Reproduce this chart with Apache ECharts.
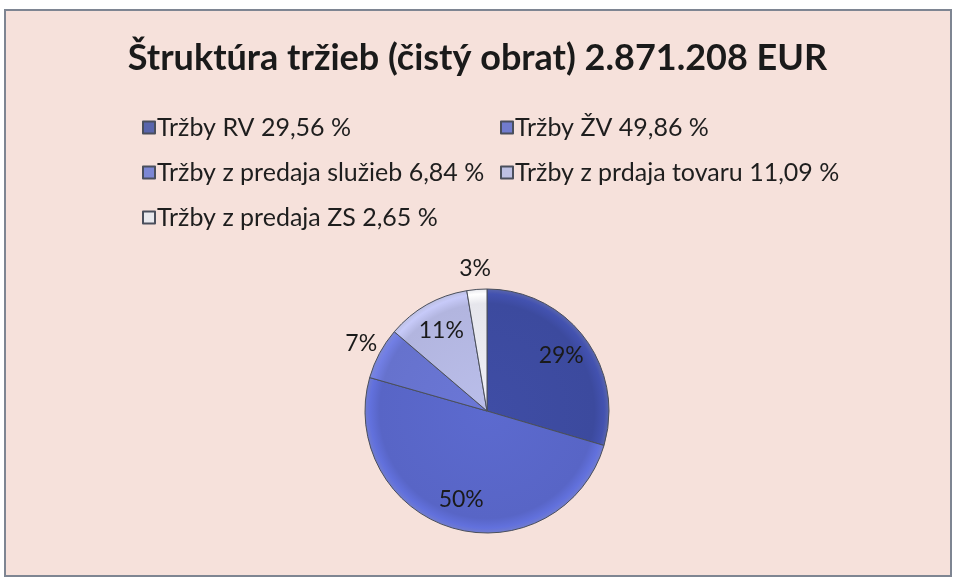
<!DOCTYPE html>
<html>
<head>
<meta charset="utf-8">
<script src="https://cdn.jsdelivr.net/npm/echarts@6/dist/echarts.min.js"></script>
<style>
  html, body { margin: 0; padding: 0; background: #ffffff; }
  #chart { width: 955px; height: 580px; }
</style>
</head>
<body>
<div id="chart"></div>
<script>
// data
const categories = [
  'Tržby RV',
  'Tržby ŽV',
  'Tržby z predaja služieb',
  'Tržby z prdaja tovaru',
  'Tržby z predaja ZS'
];
const shares = [29.56, 49.86, 6.84, 11.09, 2.65];
const shareTexts = ['29,56', '49,86', '6,84', '11,09', '2,65'];
const sliceLabels = ['29%', '50%', '7%', '11%', '3%'];
const colors = ['#3c4a9e', '#5865c6', '#6672cd', '#b2b5df', '#e6e6ec'];

const cx = 487, cy = 411, R = 122;

const chart = echarts.init(document.getElementById('chart'));

// one legend per entry so the two columns line up like in Excel
const legendPos = [
  { left: 137, top: 110 },
  { left: 495, top: 110 },
  { left: 137, top: 155 },
  { left: 495, top: 155 },
  { left: 137, top: 200 }
];
const legends = categories.map((name, i) => ({
  data: [name],
  left: legendPos[i].left,
  top: legendPos[i].top,
  icon: 'rect',
  itemWidth: 12,
  itemHeight: 12,
  itemGap: 0,
  selectedMode: false,
  formatter: n => n + ' ' + shareTexts[i] + ' %',
  textStyle: { fontFamily: 'Lato', fontSize: 25, color: '#1e1e1e', padding: [0, 0, 0, -3] }
}));

const option = {
  backgroundColor: '#ffffff',
  animation: false,
  graphic: [
    {
      type: 'rect',
      shape: { x: 5, y: 10, width: 946, height: 566 },
      style: { fill: '#f6e1db', stroke: '#7e8592', lineWidth: 2 },
      z: -10
    }
  ],
  title: {
    text: 'Štruktúra tržieb (čistý obrat) 2.871.208 EUR',
    left: 'center',
    top: 35,
    textStyle: { fontFamily: 'Lato', fontWeight: 'bold', fontSize: 36, color: '#1a1a1a' }
  },
  legend: legends,
  series: [
    {
      type: 'pie',
      center: [cx, cy],
      radius: [0, R],
      startAngle: 90,
      clockwise: true,
      data: categories.map((name, i) => ({
        name: name,
        value: shares[i],
        itemStyle: {
          color: {
            type: 'radial', x: cx, y: cy, r: R, global: true,
            colorStops: [
              { offset: 0, color: echarts.color.lift(colors[i], -0.05) },
              { offset: 0.88, color: colors[i] },
              { offset: 0.96, color: echarts.color.lift(colors[i], -0.12) },
              { offset: 1, color: echarts.color.lift(colors[i], 0.15) }
            ]
          }
        }
      })),
      itemStyle: { borderColor: '#4a4f5c', borderWidth: 1 },
      label: {
        show: true,
        position: 'inside',
        formatter: p => sliceLabels[p.dataIndex],
        fontFamily: 'Lato',
        fontSize: 23,
        color: '#1a1a1a'
      },
      labelLine: { show: false },
      // Excel puts inside labels further out, small ones outside the pie
      labelLayout: function (p) {
        const r = p.labelRect;
        const lx = r.x + r.width / 2, ly = r.y + r.height / 2;
        const d = Math.hypot(lx - cx, ly - cy) || 1;
        const target = (shares[p.dataIndex] < 8 ? 1.17 : 0.76) * R;
        const s = target / d - 1;
        return { dx: (lx - cx) * s, dy: (ly - cy) * s };
      },
      emphasis: { disabled: true }
    }
  ]
};

chart.setOption(option);
</script>
</body>
</html>
